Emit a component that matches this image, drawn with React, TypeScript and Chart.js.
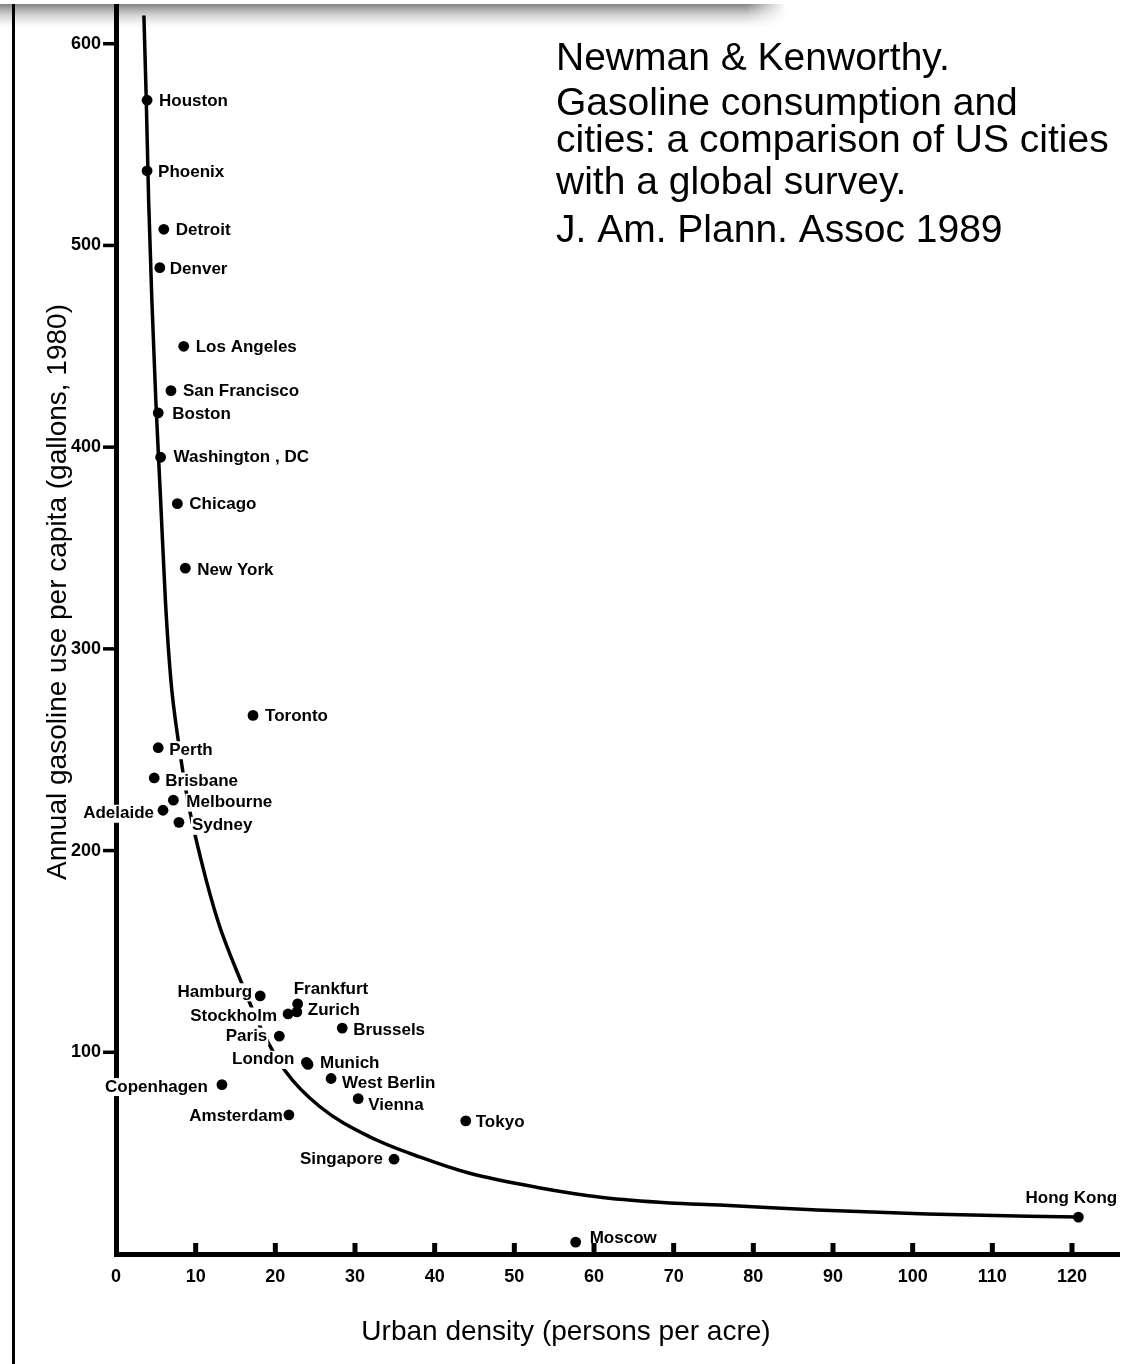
import { useEffect, useRef } from 'react';
import { Chart, registerables } from 'chart.js';

Chart.register(...registerables);

// Cities: urban density (persons per acre) and annual gasoline use per capita (gallons, 1980)
const cityNames = [
  'Houston', 'Phoenix', 'Detroit', 'Denver', 'Los Angeles', 'San Francisco', 'Boston',
  'Washington , DC', 'Chicago', 'New York', 'Toronto', 'Perth', 'Brisbane', 'Melbourne',
  'Adelaide', 'Sydney', 'Hamburg', 'Frankfurt', 'Zurich', 'Stockholm', 'Brussels', 'Paris',
  'London', 'Munich', 'West Berlin', 'Vienna', 'Copenhagen', 'Amsterdam', 'Tokyo',
  'Singapore', 'Hong Kong', 'Moscow',
];
const cityDensity = [
  3.9, 3.9, 6.0, 5.5, 8.5, 6.9, 5.3,
  5.6, 7.7, 8.7, 17.2, 5.3, 4.8, 7.2,
  5.9, 7.9, 18.1, 22.8, 22.7, 21.6, 28.4, 20.5,
  23.9, 24.1, 27.0, 30.4, 13.3, 21.7, 43.9,
  34.9, 120.8, 57.7,
];
const cityGasoline = [
  572, 537, 508, 489, 450, 428, 417,
  395, 372, 340, 267, 251, 236, 225,
  220, 214, 128, 124, 120, 119, 112, 108,
  95, 94, 87, 77, 84, 69, 66,
  47, 18.3, 5.9,
];

// Fitted trend curve
const fitDensity = [
  3.5, 3.8, 4.1, 4.5, 5.0, 5.6, 6.2, 6.9, 7.8, 9.0, 10.7, 12.8, 15.6, 18.3,
  21.2, 25.6, 31.9, 38.2, 44.4, 52.9, 61.1, 69.5, 75.8, 88.0, 101.8, 120.8,
];
const fitGasoline = [
  614, 572, 522, 473, 423, 374, 324, 284, 255, 225, 195, 165, 136, 111,
  91, 73, 58, 48, 40, 33, 28, 25.3, 24.3, 21.8, 19.8, 18.3,
];

const densityTicks = [0, 10, 20, 30, 40, 50, 60, 70, 80, 90, 100, 110, 120];
const gasolineTicks = [100, 200, 300, 400, 500, 600];

const xAxisTitle = 'Urban density (persons per acre)';
const yAxisTitle = 'Annual gasoline use per capita (gallons, 1980)';
const citationLines = [
  'Newman & Kenworthy.',
  'Gasoline consumption and',
  'cities: a comparison of US cities',
  'with a global survey.',
  'J. Am. Plann. Assoc 1989',
];

const FAMILY = '"Liberation Sans", Arial, Helvetica, sans-serif';
const LABEL_FONT = `bold 17px ${FAMILY}`;

// Where each city name sits relative to its dot
const labelPlacement: Record<string, { dx: number; dy: number; align: 'left' | 'right' | 'center' }> = {
  Houston: { dx: 12, dy: 0, align: 'left' },
  Phoenix: { dx: 11, dy: 0, align: 'left' },
  Detroit: { dx: 12, dy: 0, align: 'left' },
  Denver: { dx: 10, dy: 0, align: 'left' },
  'Los Angeles': { dx: 12, dy: 0, align: 'left' },
  'San Francisco': { dx: 12, dy: -1, align: 'left' },
  Boston: { dx: 14, dy: 0, align: 'left' },
  'Washington , DC': { dx: 13, dy: -1, align: 'left' },
  Chicago: { dx: 12, dy: -1, align: 'left' },
  'New York': { dx: 12, dy: 1, align: 'left' },
  Toronto: { dx: 12, dy: 0, align: 'left' },
  Perth: { dx: 11, dy: 1, align: 'left' },
  Brisbane: { dx: 11, dy: 2, align: 'left' },
  Melbourne: { dx: 13, dy: 1, align: 'left' },
  Adelaide: { dx: -9, dy: 2, align: 'right' },
  Sydney: { dx: 13, dy: 2, align: 'left' },
  Hamburg: { dx: -8, dy: -5, align: 'right' },
  Frankfurt: { dx: -4, dy: -16, align: 'left' },
  Zurich: { dx: 11, dy: -3, align: 'left' },
  Stockholm: { dx: -11, dy: 1, align: 'right' },
  Brussels: { dx: 11, dy: 1, align: 'left' },
  Paris: { dx: -12, dy: -1, align: 'right' },
  London: { dx: -12, dy: -4, align: 'right' },
  Munich: { dx: 12, dy: -2, align: 'left' },
  'West Berlin': { dx: 11, dy: 3, align: 'left' },
  Vienna: { dx: 10, dy: 5, align: 'left' },
  Copenhagen: { dx: -14, dy: 1, align: 'right' },
  Amsterdam: { dx: -6, dy: 0, align: 'right' },
  Tokyo: { dx: 10, dy: 0, align: 'left' },
  Singapore: { dx: -11, dy: -1, align: 'right' },
  'Hong Kong': { dx: -7, dy: -20, align: 'center' },
  Moscow: { dx: 14, dy: -5, align: 'left' },
};

// City names sit on white boxes that hide the trend curve behind them
const cityLabelPlugin = {
  id: 'cityLabels',
  afterDatasetDraw(chart: any, args: any) {
    if (args.index !== 0) return;
    const { ctx } = chart;
    const xs = chart.scales.x;
    const ys = chart.scales.y;
    ctx.save();
    ctx.font = LABEL_FONT;
    ctx.textBaseline = 'alphabetic';
    ctx.textAlign = 'left';
    cityNames.forEach((name, i) => {
      const p = labelPlacement[name];
      const ax = xs.getPixelForValue(cityDensity[i]) + p.dx;
      const base = ys.getPixelForValue(cityGasoline[i]) + p.dy + 6;
      const w = ctx.measureText(name).width;
      const left = p.align === 'left' ? ax : p.align === 'right' ? ax - w : ax - w / 2;
      ctx.fillStyle = '#fff';
      ctx.fillRect(left - 1, base - 13.5, w + 2, 18);
      ctx.fillStyle = '#000';
      ctx.fillText(name, left, base);
    });
    ctx.restore();
  },
};

// Tick marks, axis titles and the reference note
const decorationsPlugin = {
  id: 'decorations',
  afterDraw(chart: any) {
    const { ctx, chartArea } = chart;
    const xs = chart.scales.x;
    const ys = chart.scales.y;
    ctx.save();
    ctx.fillStyle = '#000';
    gasolineTicks.forEach((v) => {
      const py = ys.getPixelForValue(v);
      ctx.fillRect(chartArea.left - 13, py - 1.75, 13, 3.5);
    });
    densityTicks.forEach((v) => {
      if (v === 0) return;
      const px = xs.getPixelForValue(v);
      ctx.fillRect(px - 2.5, chartArea.bottom - 11, 5, 11);
    });

    ctx.font = `28px ${FAMILY}`;
    ctx.textAlign = 'center';
    ctx.textBaseline = 'alphabetic';
    ctx.fillText(xAxisTitle, 566, 1340);

    ctx.save();
    ctx.translate(66, 592);
    ctx.rotate(-Math.PI / 2);
    ctx.fillText(yAxisTitle, 0, 0);
    ctx.restore();

    ctx.font = `39px ${FAMILY}`;
    ctx.textAlign = 'left';
    const baselines = [70, 115, 152, 194, 242];
    citationLines.forEach((line, i) => ctx.fillText(line, 556, baselines[i]));
    ctx.restore();
  },
};

export default function App() {
  const canvasRef = useRef<HTMLCanvasElement>(null);

  useEffect(() => {
    const canvas = canvasRef.current;
    if (!canvas) return;
    const tickFont = { family: FAMILY, size: 18, weight: 'bold' as const };
    const chart = new Chart(canvas, {
      type: 'scatter',
      data: {
        datasets: [
          {
            label: 'Trend',
            data: fitDensity.map((x, i) => ({ x, y: fitGasoline[i] })),
            showLine: true,
            borderColor: '#000',
            borderWidth: 3.5,
            pointRadius: 0,
            pointHoverRadius: 0,
            cubicInterpolationMode: 'monotone',
            order: 2,
            clip: false,
          },
          {
            label: 'Cities',
            data: cityDensity.map((x, i) => ({ x, y: cityGasoline[i] })),
            backgroundColor: '#000',
            borderColor: '#000',
            borderWidth: 0,
            pointRadius: 5.4,
            pointHoverRadius: 5.4,
            order: 1,
            clip: false,
          },
        ],
      },
      options: {
        animation: false,
        responsive: false,
        events: [],
        layout: { padding: { top: 0, right: 16, bottom: 0, left: 0 } },
        plugins: {
          legend: { display: false },
          tooltip: { enabled: false },
          title: { display: false },
        },
        scales: {
          x: {
            type: 'linear',
            min: 0,
            max: 125.9,
            grid: { display: false, drawTicks: false },
            border: { display: true, width: 5, color: '#000' },
            ticks: { color: '#000', font: tickFont, padding: 12, maxRotation: 0, autoSkip: false, includeBounds: false },
            afterBuildTicks: (s: any) => {
              s.ticks = densityTicks.map((value) => ({ value }));
            },
            afterFit: (s: any) => {
              s.height = 110;
              s.paddingLeft = 0;
              s.paddingRight = 0;
            },
          },
          y: {
            type: 'linear',
            min: 0,
            max: 619,
            grid: { display: false, drawTicks: false },
            border: { display: true, width: 5, color: '#000' },
            ticks: { color: '#000', font: tickFont, padding: 15, autoSkip: false, includeBounds: false },
            afterBuildTicks: (s: any) => {
              s.ticks = gasolineTicks.map((value) => ({ value }));
            },
            afterFit: (s: any) => {
              s.width = 116;
              s.paddingTop = 0;
              s.paddingBottom = 0;
            },
          },
        },
      },
      plugins: [cityLabelPlugin, decorationsPlugin],
    } as any);
    return () => chart.destroy();
  }, []);

  const bandFade = 'linear-gradient(to right, #000 0%, #000 95%, transparent 100%)';

  return (
    <div style={{ position: 'absolute', left: 0, top: 0, width: 1135, height: 1364, background: '#fff', overflow: 'hidden' }}>
      <canvas ref={canvasRef} width={1135} height={1364} style={{ position: 'absolute', left: 0, top: 0 }} />
      <div style={{ position: 'absolute', left: 12, top: 0, width: 3, height: 1364, background: '#000' }} />
      {/* white strip along the top with its soft drop shadow */}
      <div style={{ position: 'absolute', left: 0, top: 0, width: 772, height: 4, background: '#fff' }} />
      <div
        style={{
          position: 'absolute',
          left: 0,
          top: 4,
          width: 786,
          height: 24,
          background:
            'linear-gradient(to bottom, rgba(0,0,0,0.48) 0%, rgba(0,0,0,0.34) 20%, rgba(0,0,0,0.18) 45%, rgba(0,0,0,0.06) 75%, rgba(0,0,0,0) 100%)',
          WebkitMaskImage: bandFade,
          maskImage: bandFade,
        }}
      />
    </div>
  );
}
